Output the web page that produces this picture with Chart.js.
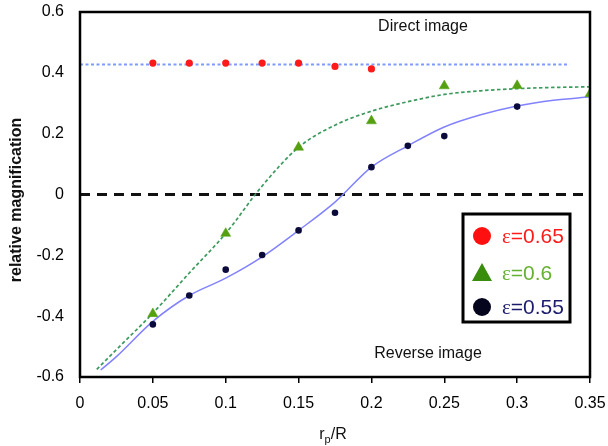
<!DOCTYPE html>
<html>
<head>
<meta charset="utf-8">
<script src="https://cdn.jsdelivr.net/npm/chart.js@4/dist/chart.umd.min.js"></script>
<style>
  html, body { margin: 0; padding: 0; background: #fff; }
  #wrap { width: 608px; height: 446px; }
</style>
</head>
<body>
<div id="wrap"><canvas id="c" width="608" height="446"></canvas></div>
<script>
// Measured magnification for three eccentricities
const redX   = [0.05, 0.075, 0.1, 0.125, 0.15, 0.175, 0.2];
const redY   = [0.432, 0.432, 0.432, 0.432, 0.432, 0.421, 0.413];
const greenX = [0.05, 0.1, 0.15, 0.2, 0.25, 0.3, 0.35];
const greenY = [-0.392, -0.128, 0.155, 0.242, 0.357, 0.358, 0.331];
const navyX  = [0.05, 0.075, 0.1, 0.125, 0.15, 0.175, 0.2, 0.225, 0.25, 0.3];
const navyY  = [-0.427, -0.332, -0.247, -0.199, -0.118, -0.06, 0.09, 0.16, 0.192, 0.289];

// Fitted trend curves
const greenFitX = [0.0115, 0.025, 0.05, 0.075, 0.1, 0.125, 0.15, 0.175, 0.2, 0.225, 0.25, 0.275, 0.3, 0.325, 0.35];
const greenFitY = [-0.575, -0.51, -0.39, -0.258, -0.128, 0.028, 0.155, 0.228, 0.274, 0.305, 0.329, 0.341, 0.348, 0.352, 0.354];
const navyFitX  = [0.0142, 0.025, 0.05, 0.075, 0.1, 0.125, 0.15, 0.175, 0.2, 0.225, 0.25, 0.275, 0.3, 0.325, 0.35];
const navyFitY  = [-0.577, -0.533, -0.417, -0.332, -0.275, -0.205, -0.118, -0.025, 0.09, 0.16, 0.222, 0.262, 0.291, 0.31, 0.321];

// Reference levels
const directX = [0, 0.336];
const directY = [0.427, 0.427];
const zeroX = [0, 0.35];
const zeroY = [0, 0];

// Axis ticks
const xTicks = [0, 0.05, 0.1, 0.15, 0.2, 0.25, 0.3, 0.35];
const xTickLabels = ['0', '0.05', '0.1', '0.15', '0.2', '0.25', '0.3', '0.35'];
const yTicks = [-0.6, -0.4, -0.2, 0, 0.2, 0.4, 0.6];
const yTickLabels = ['-0.6', '-0.4', '-0.2', '0', '0.2', '0.4', '0.6'];

const seriesLabels = ['ε=0.65', 'ε=0.6', 'ε=0.55'];
const seriesText = ['#ff1a1a', '#66b032', '#1c1c6e'];

const pts = (xs, ys) => xs.map((x, i) => ({ x: x, y: ys[i] }));
const SANS = "'Liberation Sans', Arial, sans-serif";

const overlay = {
  id: 'overlay',
  afterDatasetsDraw(chart) {
    const ctx = chart.ctx;
    const a = chart.chartArea;
    ctx.save();

    // region labels
    ctx.fillStyle = '#111';
    ctx.font = '16px ' + SANS;
    ctx.textAlign = 'center';
    ctx.textBaseline = 'middle';
    ctx.fillText('Direct image', 423, 27);
    ctx.fillText('Reverse image', 428, 354);

    // y axis title
    ctx.save();
    ctx.translate(17, 200);
    ctx.rotate(-Math.PI / 2);
    ctx.font = 'bold 16px ' + SANS;
    ctx.fillText('relative magnification', 0, 0);
    ctx.restore();

    // x axis title with subscript
    ctx.textBaseline = 'alphabetic';
    ctx.textAlign = 'left';
    ctx.font = '16px ' + SANS;
    const wr = ctx.measureText('r').width;
    const wR = ctx.measureText('/R').width;
    ctx.font = '11px ' + SANS;
    const wp = ctx.measureText('p').width;
    let tx = 333 - (wr + wp + wR) / 2;
    const ty = 439;
    ctx.font = '16px ' + SANS;
    ctx.fillText('r', tx, ty);
    ctx.font = '11px ' + SANS;
    ctx.fillText('p', tx + wr, ty + 4);
    ctx.font = '16px ' + SANS;
    ctx.fillText('/R', tx + wr + wp, ty);

    // legend box
    const bx = 463, by = 214, bw = 107, bh = 108;
    ctx.fillStyle = '#fff';
    ctx.fillRect(bx, by, bw, bh);
    ctx.lineWidth = 3;
    ctx.strokeStyle = '#000';
    ctx.strokeRect(bx, by, bw, bh);
    const rows = [236, 273, 307];
    for (let i = 0; i < 3; i++) {
      const ds = chart.data.datasets[i];
      const cy = rows[i];
      ctx.fillStyle = ds.legendColor;
      ctx.beginPath();
      if (ds.pointStyle === 'triangle') {
        ctx.moveTo(482, cy - 10);
        ctx.lineTo(492, cy + 8);
        ctx.lineTo(472, cy + 8);
        ctx.closePath();
      } else {
        ctx.arc(482, cy, 9, 0, Math.PI * 2);
      }
      ctx.fill();
      ctx.fillStyle = seriesText[i];
      ctx.textBaseline = 'middle';
      ctx.textAlign = 'left';
      const label = ds.label;
      ctx.font = "21px 'Liberation Serif', 'Times New Roman', serif";
      ctx.fillText(label[0], 502, cy + 1);
      const we = ctx.measureText(label[0]).width;
      ctx.font = '21px ' + SANS;
      ctx.fillText(label.slice(1), 502 + we, cy + 1);
    }

    // plot frame
    ctx.lineWidth = 2.5;
    ctx.strokeStyle = '#000';
    ctx.strokeRect(a.left, a.top, a.right - a.left, a.bottom - a.top);
    ctx.restore();
  }
};

new Chart(document.getElementById('c'), {
  type: 'scatter',
  data: {
    datasets: [
      {
        label: seriesLabels[0], data: pts(redX, redY), order: 0,
        pointStyle: 'circle', pointRadius: 3.6, pointBackgroundColor: '#ff1a1a',
        pointBorderWidth: 0, legendColor: '#ff1010'
      },
      {
        label: seriesLabels[1], data: pts(greenX, greenY), order: 0,
        pointStyle: 'triangle', pointRadius: 5.8, pointBackgroundColor: '#55a010',
        pointBorderColor: '#55a010', pointBorderWidth: 0.5, legendColor: '#3a8c0c'
      },
      {
        label: seriesLabels[2], data: pts(navyX, navyY), order: 0,
        pointStyle: 'circle', pointRadius: 3.3, pointBackgroundColor: '#0b0b3b',
        pointBorderWidth: 0, legendColor: '#05051e'
      },
      {
        label: 'direct', data: pts(directX, directY), order: 1, showLine: true,
        borderColor: '#7f9bff', borderWidth: 2, borderDash: [3, 2.5], pointRadius: 0
      },
      {
        label: 'fit 0.6', data: pts(greenFitX, greenFitY), order: 1, showLine: true,
        borderColor: '#3d9a5e', borderWidth: 1.7, borderDash: [3.5, 2.5], pointRadius: 0,
        cubicInterpolationMode: 'monotone'
      },
      {
        label: 'fit 0.55', data: pts(navyFitX, navyFitY), order: 1, showLine: true,
        borderColor: '#8282ff', borderWidth: 1.5, pointRadius: 0,
        cubicInterpolationMode: 'monotone'
      },
      {
        label: 'zero', data: pts(zeroX, zeroY), order: 1, showLine: true,
        borderColor: '#111', borderWidth: 3, borderDash: [10, 7], pointRadius: 0
      }
    ]
  },
  options: {
    responsive: false,
    animation: false,
    layout: { padding: { left: 0, right: 18, top: 12, bottom: 0 } },
    plugins: { legend: { display: false }, tooltip: { enabled: false } },
    scales: {
      x: {
        type: 'linear', min: 0, max: 0.35,
        afterBuildTicks: s => { s.ticks = xTicks.map(v => ({ value: v })); },
        afterFit: s => { s.height = 69; s.paddingLeft = 0; s.paddingRight = 0; },
        ticks: {
          color: '#000', font: { family: SANS, size: 16 }, padding: 11,
          maxRotation: 0, autoSkip: false,
          callback: (v, i) => xTickLabels[i]
        },
        grid: { drawOnChartArea: false, drawTicks: true, tickLength: 6, color: '#000', lineWidth: 1.5 },
        border: { display: false }
      },
      y: {
        type: 'linear', min: -0.6, max: 0.6,
        afterBuildTicks: s => { s.ticks = yTicks.map(v => ({ value: v })); },
        afterFit: s => { s.width = 80; s.paddingTop = 0; s.paddingBottom = 0; },
        ticks: {
          color: '#000', font: { family: SANS, size: 16 }, padding: 8,
          autoSkip: false,
          callback: (v, i) => yTickLabels[i]
        },
        grid: { display: false },
        border: { display: false }
      }
    }
  },
  plugins: [overlay]
});
</script>
</body>
</html>
